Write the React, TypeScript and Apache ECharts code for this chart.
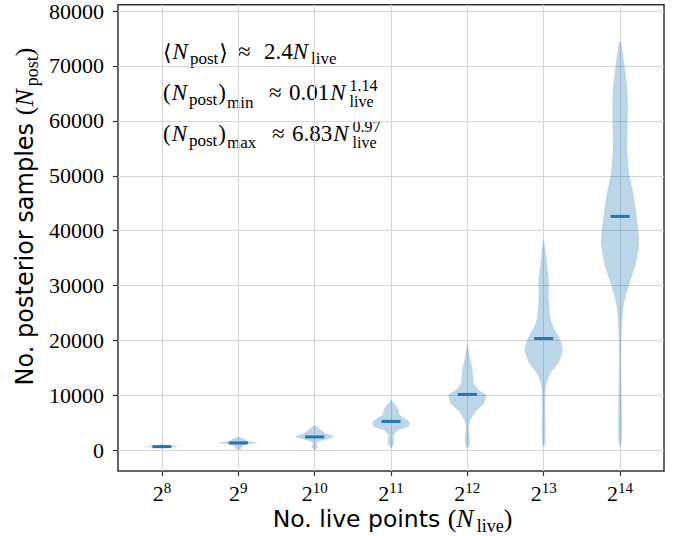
import React, { useEffect, useRef } from 'react';
import * as echarts from 'echarts';

// x: log2 of number of live points
const LOG2_NLIVE = [8, 9, 10, 11, 12, 13, 14];
const Y_TICKS = [0, 10000, 20000, 30000, 40000, 50000, 60000, 70000, 80000];
const MEDIAN_NPOST = [680, 1350, 2450, 5270, 10180, 20360, 42600];

// violin outlines: N_post levels (top -> bottom) and relative half-widths (0..1)
const V8_LEVELS = [1150, 900, 720, 550, 290];
const V8_WIDTHS = [0, 0.25, 1.0, 0.3, 0];
const V9_LEVELS = [2480, 2100, 1700, 1390, 1000, 600, 300, 60];
const V9_WIDTHS = [0, 0.3, 0.45, 1.0, 0.35, 0.18, 0.15, 0];
const V10_LEVELS = [4600, 4100, 3690, 3100, 2540, 2000, 1500, 1100, 650, 60];
const V10_WIDTHS = [0, 0.18, 0.34, 0.55, 1.0, 0.6, 0.15, 0.1, 0.16, 0];
const V11_LEVELS = [9150, 8240, 7400, 6500, 5800, 5000, 4300, 3690, 2780, 2000, 1300, 360];
const V11_WIDTHS = [0, 0.22, 0.38, 0.45, 0.75, 1.0, 0.9, 0.4, 0.13, 0.15, 0.16, 0];
const V12_LEVELS = [19750, 18500, 17020, 15800, 14600, 13300, 12180, 11000, 10050, 8540, 7020, 5510, 4500, 3690, 1870, 900, 360];
const V12_WIDTHS = [0, 0.06, 0.12, 0.2, 0.27, 0.3, 0.34, 0.6, 1.0, 0.86, 0.43, 0.16, 0.08, 0.08, 0.13, 0.1, 0];
const V13_LEVELS = [38240, 36500, 34000, 30960, 27930, 24900, 23200, 21870, 20000, 18240, 15820, 14500, 13380, 12000, 10960, 7330, 3690, 1270, 650];
const V13_WIDTHS = [0, 0.1, 0.17, 0.27, 0.26, 0.32, 0.42, 0.6, 0.88, 1.0, 0.76, 0.45, 0.27, 0.14, 0.1, 0.08, 0.1, 0.08, 0];
const V14_LEVELS = [74600, 73400, 70360, 67300, 64300, 60050, 55200, 50360, 46100, 42470, 40000, 37630, 34000, 30360, 28000, 26100, 21870, 15860, 9750, 4960, 1500, 650];
const V14_WIDTHS = [0, 0.1, 0.22, 0.34, 0.4, 0.4, 0.37, 0.48, 0.73, 0.87, 0.96, 1.0, 0.83, 0.49, 0.3, 0.17, 0.08, 0.05, 0.08, 0.1, 0.08, 0];

const VIOLIN_LEVELS = [V8_LEVELS, V9_LEVELS, V10_LEVELS, V11_LEVELS, V12_LEVELS, V13_LEVELS, V14_LEVELS];
const VIOLIN_WIDTHS = [V8_WIDTHS, V9_WIDTHS, V10_WIDTHS, V11_WIDTHS, V12_WIDTHS, V13_WIDTHS, V14_WIDTHS];

const HALF_WIDTH = 0.25;
const MEDIAN_HALF = 0.125;

const SERIF = '"Liberation Serif", "DejaVu Serif", serif';
const SYM = '"DejaVu Serif", serif';
const SANS = '"DejaVu Sans", sans-serif';

function fam(s: any) {
  return s.sans ? SANS : s.sym ? SYM : SERIF;
}

function measure(text: string, size: number, italic: boolean, family: string) {
  const el = new (echarts as any).graphic.Text({
    style: { text, fontSize: size, fontFamily: family, fontStyle: italic ? 'italic' : 'normal' },
  });
  return el.getBoundingRect().width;
}

function layout(segs: any[], base: number) {
  let x = 0;
  const items: any[] = [];
  for (const s of segs) {
    if (typeof s.x === 'number') x = s.x;
    x += s.pre || 0;
    const size = s.size || base;
    const family = fam(s);
    const parts = s.stack ? s.stack : [{ t: s.t, dy: s.dy || 0 }];
    let w = 0;
    for (const p of parts) {
      const pw = measure(p.t, size, !!s.it, family);
      w = Math.max(w, pw);
      items.push({
        type: 'text',
        x,
        y: p.dy - 0.34 * size,
        silent: true,
        style: {
          text: p.t,
          fontSize: size,
          fontFamily: family,
          fontStyle: s.it ? 'italic' : 'normal',
          fill: '#000',
          align: 'left',
          verticalAlign: 'middle',
        },
      });
    }
    x += w + (s.post || 0);
  }
  return { items, width: x };
}

function lineGroup(segs: any[], base: number, x: number, y: number, center: boolean, rotation = 0) {
  const { items, width } = layout(segs, base);
  if (center) items.forEach((it) => (it.x -= width / 2));
  return { type: 'group', x, y, rotation, silent: true, children: items };
}

const SUB = 17;
const AX_SUB = 18;

export default function App() {
  const ref = useRef<HTMLDivElement>(null);
  useEffect(() => {
    if (!ref.current) return;
    const chart = echarts.init(ref.current, null, { renderer: 'svg' });

    const line1 = [
      { t: '⟨', sym: true, size: 22 },
      { t: 'N', it: true, pre: 1, post: 2 },
      { t: 'post', size: SUB, dy: 5 },
      { t: '⟩', sym: true, size: 22, pre: 1 },
      { t: '≈', x: 75 },
      { t: '2.4', x: 101 },
      { t: 'N', it: true, post: 3 },
      { t: 'live', size: SUB, dy: 5 },
    ];
    const line2 = [
      { t: '(' },
      { t: 'N', it: true, pre: 1, post: 2 },
      { t: 'post', size: SUB, dy: 5 },
      { t: ')', pre: 1 },
      { t: 'min', size: SUB, dy: 7.5, pre: 1 },
      { t: '≈', x: 106 },
      { t: '0.01', x: 126 },
      { t: 'N', it: true, pre: 1, post: 4 },
      { size: 16, stack: [{ t: '1.14', dy: -9.5 }, { t: 'live', dy: 6.5 }] },
    ];
    const line3 = [
      { t: '(' },
      { t: 'N', it: true, pre: 1, post: 2 },
      { t: 'post', size: SUB, dy: 5 },
      { t: ')', pre: 1 },
      { t: 'max', size: SUB, dy: 7.5, pre: 1 },
      { t: '≈', x: 109 },
      { t: '6.83', x: 129 },
      { t: 'N', it: true, pre: 1, post: 4 },
      { size: 16, stack: [{ t: '0.97', dy: -9.5 }, { t: 'live', dy: 6.5 }] },
    ];
    const xTitle = [
      { t: 'No. live points ', sans: true, size: 23.5 },
      { t: '(' },
      { t: 'N', it: true, post: 3 },
      { t: 'live', size: AX_SUB, dy: 5.5 },
      { t: ')' },
    ];
    const yTitle = [
      { t: 'No. posterior samples ', sans: true, size: 24 },
      { t: '(' },
      { t: 'N', it: true, post: 3 },
      { t: 'post', size: AX_SUB, dy: 5.5 },
      { t: ')' },
    ];

    const renderItem = (params: any, api: any) => {
      const i = params.dataIndex;
      const x = api.value(0);
      const med = api.value(1);
      const levels = VIOLIN_LEVELS[i];
      const widths = VIOLIN_WIDTHS[i];
      const right = levels.map((y, k) => api.coord([x + HALF_WIDTH * widths[k], y]));
      const left: number[][] = [];
      for (let k = levels.length - 1; k >= 0; k--) {
        if (widths[k] > 0) left.push(api.coord([x - HALF_WIDTH * widths[k], levels[k]]));
      }
      const pts = right.concat(left);
      let minX = Infinity, minY = Infinity, maxX = -Infinity, maxY = -Infinity;
      for (const p of pts) {
        minX = Math.min(minX, p[0]); maxX = Math.max(maxX, p[0]);
        minY = Math.min(minY, p[1]); maxY = Math.max(maxY, p[1]);
      }
      const p1 = api.coord([x - MEDIAN_HALF, med]);
      const p2 = api.coord([x + MEDIAN_HALF, med]);
      return {
        type: 'group',
        children: [
          {
            type: 'polygon',
            shape: { points: pts, smooth: 0.2, smoothConstraint: [[minX, minY], [maxX, maxY]] },
            style: { fill: 'rgba(31,119,180,0.3)', stroke: 'none' },
          },
          {
            type: 'line',
            shape: { x1: p1[0], y1: p1[1], x2: p2[0], y2: p2[1] },
            style: { stroke: '#1f77b4', lineWidth: 3 },
          },
        ],
      };
    };

    chart.setOption({
      animation: false,
      grid: {
        left: 118,
        right: 19,
        top: 4,
        bottom: 65,
        show: true,
        borderColor: '#333',
        borderWidth: 1.5,
        backgroundColor: 'transparent',
      },
      xAxis: {
        type: 'value',
        min: 7.425,
        max: 14.575,
        splitNumber: 7,
        axisLine: { show: false, onZero: false },
        axisTick: {
          show: true,
          inside: false,
          length: 5,
          customValues: LOG2_NLIVE,
          lineStyle: { color: '#333', width: 1.2 },
        },
        axisLabel: {
          customValues: LOG2_NLIVE,
          margin: 9,
          formatter: (v: number) => `{b|2}{p|${v}}`,
          rich: {
            b: { fontSize: 22, fontFamily: SERIF, color: '#000', lineHeight: 26 },
            p: { fontSize: 15, fontFamily: SERIF, color: '#000', verticalAlign: 'top', lineHeight: 15 },
          },
        },
        splitLine: { show: true, lineStyle: { color: '#d6d6d6', width: 1 } },
      },
      yAxis: {
        type: 'value',
        min: -3760,
        max: 81150,
        splitNumber: 8,
        axisLine: { show: false, onZero: false },
        axisTick: {
          show: true,
          inside: false,
          length: 5,
          customValues: Y_TICKS,
          lineStyle: { color: '#333', width: 1.2 },
        },
        axisLabel: {
          customValues: Y_TICKS,
          margin: 14,
          fontSize: 22,
          fontFamily: SERIF,
          color: '#000',
          formatter: (v: number) => String(v),
        },
        splitLine: { show: true, lineStyle: { color: '#d6d6d6', width: 1 } },
      },
      series: [
        {
          type: 'custom',
          renderItem,
          data: LOG2_NLIVE.map((p, i) => [p, MEDIAN_NPOST[i]]),
          encode: { x: 0, y: 1 },
          silent: true,
          z: 3,
        },
      ],
      graphic: [
        lineGroup(line1, 23, 163, 59.5, false),
        lineGroup(line2, 23, 163, 100.5, false),
        lineGroup(line3, 23, 163, 141, false),
        lineGroup(xTitle, 26, 392.5, 527, true),
        lineGroup(yTitle, 26, 33, 216.5, true, Math.PI / 2),
      ],
    });
    return () => chart.dispose();
  }, []);
  return (
    <div
      ref={ref}
      style={{ position: 'absolute', left: 0, top: 0, width: 683, height: 536, background: '#fff' }}
    />
  );
}
